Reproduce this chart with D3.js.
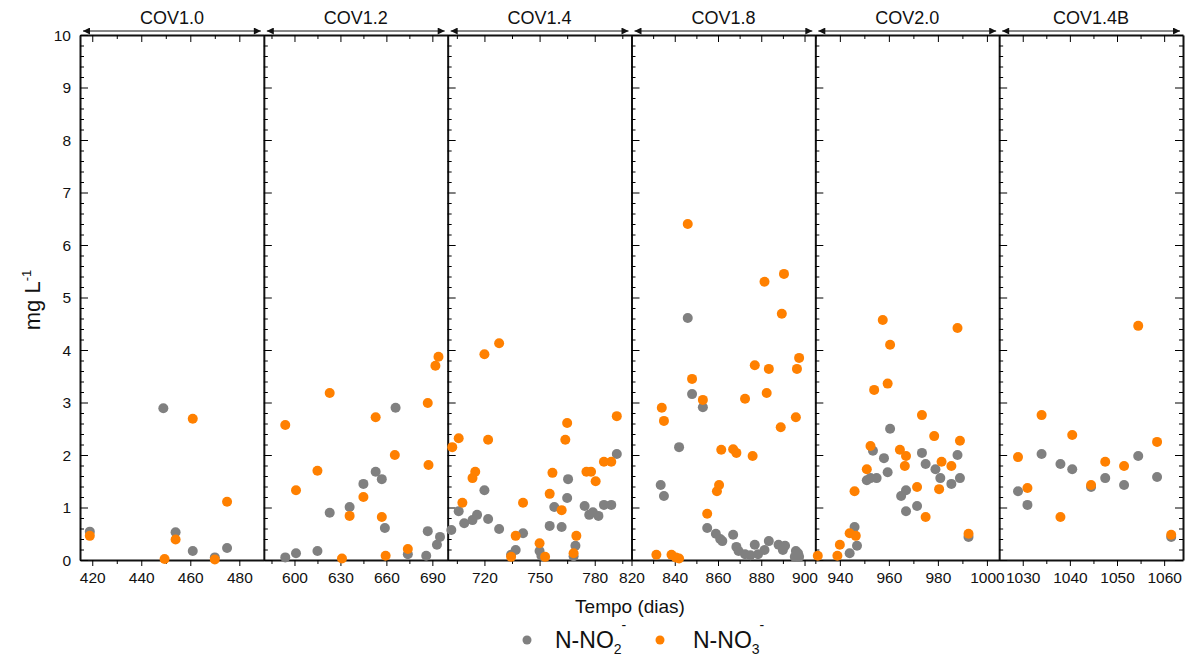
<!DOCTYPE html>
<html>
<head>
<meta charset="utf-8">
<script src="https://cdn.jsdelivr.net/npm/d3@7"></script>
<style>
  body { margin: 0; background: #fff; }
  text { font-family: "Liberation Sans", Arial, sans-serif; fill: #111; }
</style>
</head>
<body>
<svg id="chart" width="1185" height="657"></svg>
<script>
// panels of the broken time axis
var panels = ['COV1.0', 'COV1.2', 'COV1.4', 'COV1.8', 'COV2.0', 'COV1.4B']
var panelDomains = [[415, 490], [580, 700], [700, 800], [820, 905], [930, 1005], [1025, 1064]]
var majorTicks = [
  [420, 440, 460, 480],
  [600, 630, 660, 690],
  [720, 750, 780],
  [820, 840, 860, 880, 900],
  [940, 960, 980, 1000],
  [1030, 1040, 1050, 1060]
]
var minorTicks = [
  [430, 450, 470],
  [585, 615, 645, 675],
  [705, 735, 765, 795],
  [830, 850, 870, 890],
  [930, 950, 970, 990],
  [1035, 1045, 1055]
]
var yTicks = [0, 1, 2, 3, 4, 5, 6, 7, 8, 9, 10]

// N-NO2- [day, mg/L]
var no2 = [
  [419, 0.54], [449, 2.89], [454, 0.53], [461, 0.17], [470, 0.05], [475, 0.23],
  [594, 0.05], [601, 0.13], [615, 0.17], [623, 0.90], [636, 1.01], [645, 1.45], [653, 1.68],
  [657, 1.54], [659, 0.61], [666, 2.90], [674, 0.11], [686, 0.08], [687, 0.55], [693, 0.29], [695, 0.44],
  [702, 0.57], [706, 0.93], [709, 0.70], [713.5, 0.76], [716, 0.86], [720, 1.33], [722, 0.78],
  [728, 0.59], [734.5, 0.10], [737, 0.19], [741, 0.51], [750, 0.17], [751, 0.08], [755.5, 0.65],
  [758, 1.01], [762, 0.63], [765, 1.18], [765.5, 1.54], [768.5, 0.07], [769.5, 0.27], [774.5, 1.03],
  [777, 0.86], [779, 0.91], [782, 0.84], [785, 1.05], [789, 1.05], [792, 2.02],
  [833.5, 1.43], [835, 1.22], [842, 2.15], [846, 4.61], [848, 3.16], [853, 2.91], [855, 0.61],
  [859, 0.50], [861, 0.40], [862, 0.36], [867, 0.48], [868.5, 0.25], [869.5, 0.17], [872.5, 0.11],
  [875, 0.09], [877, 0.29], [878.5, 0.11], [881.5, 0.19], [883.5, 0.36], [888, 0.29], [890, 0.19],
  [891, 0.27], [895.5, 0.06], [896, 0.17], [897, 0.13], [897.5, 0.06],
  [944, 0.13], [946, 0.63], [947, 0.27], [951, 1.52], [952.5, 1.56], [953.5, 2.08], [955, 1.56],
  [958, 1.94], [959.5, 1.67], [960.5, 2.50], [965, 1.22], [967, 1.33], [967, 0.93], [971.5, 1.03],
  [973.5, 2.04], [975, 1.83], [979, 1.73], [981, 1.56], [985.5, 1.45], [988, 2.00], [989, 1.56], [992.5, 0.44],
  [1029, 1.31], [1031, 1.05], [1034, 2.02], [1038, 1.83], [1040.5, 1.73], [1044.5, 1.39],
  [1047.5, 1.56], [1051.5, 1.43], [1054.5, 1.98], [1058.5, 1.58], [1061.5, 0.44]
]

// N-NO3- [day, mg/L]
var no3 = [
  [419, 0.46], [449.5, 0.02], [454, 0.39], [461, 2.69], [470, 0.01], [475, 1.11],
  [594, 2.57], [601, 1.33], [615, 1.70], [623, 3.18], [631, 0.03], [636, 0.84], [645, 1.20],
  [653, 2.72], [657, 0.82], [659.5, 0.08], [665.5, 2.00], [674, 0.21], [687, 2.99], [687.5, 1.81],
  [692, 3.70], [694, 3.87],
  [702.5, 2.15], [706, 2.32], [708, 1.09], [713.5, 1.56], [715, 1.68], [720, 3.92], [722, 2.29],
  [728, 4.13], [734.5, 0.06], [737, 0.46], [741, 1.09], [750, 0.32], [753, 0.06], [755.5, 1.26],
  [757, 1.66], [762, 0.95], [764, 2.29], [765, 2.61], [768.5, 0.13], [770, 0.46], [775.5, 1.68],
  [778, 1.68], [780.5, 1.50], [785, 1.87], [789, 1.87], [792, 2.74],
  [831.5, 0.10], [834, 2.90], [835, 2.65], [838.5, 0.10], [840.5, 0.05], [842, 0.03], [846, 6.40],
  [848, 3.45], [853, 3.05], [855, 0.88], [859.5, 1.31], [860.5, 1.43], [861.5, 2.10], [867, 2.11],
  [868.5, 2.04], [872.5, 3.07], [876, 1.98], [877, 3.71], [881.5, 5.30], [882.5, 3.18], [883.5, 3.64],
  [889, 2.53], [889.5, 4.69], [890.5, 5.45], [896, 2.72], [896.5, 3.64], [897.5, 3.85],
  [931, 0.08], [939, 0.08], [940, 0.29], [944, 0.51], [946, 1.31], [946.5, 0.46], [951, 1.73],
  [952.5, 2.17], [954, 3.24], [957.5, 4.57], [959.5, 3.36], [960.5, 4.10], [964.5, 2.10],
  [966.5, 1.79], [967, 1.98], [971.5, 1.39], [973.5, 2.76], [975, 0.82], [978.5, 2.36], [980.5, 1.35],
  [981.5, 1.87], [985.5, 1.79], [988, 4.42], [989, 2.27], [992.5, 0.50],
  [1029, 1.96], [1031, 1.37], [1034, 2.76], [1038, 0.82], [1040.5, 2.38], [1044.5, 1.43],
  [1047.5, 1.87], [1051.5, 1.79], [1054.5, 4.46], [1058.5, 2.25], [1061.5, 0.48]
]

var grey = '#808080'
var orange = '#ff8000'

var svg = d3.select('#chart')
var plotLeft = 80
var plotRight = 1183
var plotTop = 35
var plotBottom = 560
var panelW = (plotRight - plotLeft) / panels.length

var y = d3.scaleLinear().domain([0, 10]).range([plotBottom, plotTop])
var yMinor = d3.range(1, 50).map(function (k) { return k / 5 }).filter(function (v) { return v % 1 !== 0 })

svg.append('defs').append('marker')
  .attr('id', 'arrow')
  .attr('viewBox', '0 0 10 10')
  .attr('refX', 10).attr('refY', 5)
  .attr('markerWidth', 10).attr('markerHeight', 7)
  .attr('markerUnits', 'userSpaceOnUse')
  .attr('orient', 'auto-start-reverse')
  .append('path').attr('d', 'M0,0 L10,5 L0,10 Z').attr('fill', '#111')

var xScales = panels.map(function (p, i) {
  return d3.scaleLinear().domain(panelDomains[i]).range([plotLeft + i * panelW, plotLeft + (i + 1) * panelW])
})

function inPanel (d, i) {
  return d[0] >= panelDomains[i][0] && d[0] <= panelDomains[i][1]
}

function styleDomain (a) { a.select('.domain').attr('stroke', '#111').attr('stroke-width', 2) }
function noDomain (a) { a.select('.domain').remove() }

panels.forEach(function (name, i) {
  var x = xScales[i]
  var x0 = plotLeft + i * panelW
  var x1 = x0 + panelW
  var g = svg.append('g')

  // bottom axis
  g.append('g').attr('transform', 'translate(0,' + plotBottom + ')')
    .call(d3.axisBottom(x).tickValues(majorTicks[i]).tickFormat(d3.format('d')).tickSize(6).tickSizeOuter(0).tickPadding(6))
    .call(styleDomain)
    .call(function (a) {
      a.selectAll('text').style('font-size', '15.5px').attr('fill', '#111')
    })
  g.append('g').attr('transform', 'translate(0,' + plotBottom + ')')
    .call(d3.axisBottom(x).tickValues(minorTicks[i]).tickSize(4).tickFormat('').tickSizeOuter(0))
    .call(noDomain)

  // top axis, ticks pointing inside
  g.append('g').attr('transform', 'translate(0,' + plotTop + ')')
    .call(d3.axisBottom(x).tickValues(majorTicks[i]).tickSize(7).tickFormat('').tickSizeOuter(0))
    .call(styleDomain)
  g.append('g').attr('transform', 'translate(0,' + plotTop + ')')
    .call(d3.axisBottom(x).tickValues(minorTicks[i]).tickSize(4).tickFormat('').tickSizeOuter(0))
    .call(noDomain)

  // left axis of each panel, ticks pointing inside
  g.append('g').attr('transform', 'translate(' + x0 + ',0)')
    .call(d3.axisRight(y).tickValues(yTicks).tickSize(8).tickFormat('').tickSizeOuter(0))
    .call(styleDomain)
  g.append('g').attr('transform', 'translate(' + x0 + ',0)')
    .call(d3.axisRight(y).tickValues(yMinor).tickSize(4).tickFormat('').tickSizeOuter(0))
    .call(noDomain)

  // arrow band and panel title
  g.append('line')
    .attr('x1', x0 + 3).attr('x2', x1 - 3)
    .attr('y1', 31).attr('y2', 31)
    .attr('stroke', '#111').attr('stroke-width', 1)
    .attr('marker-start', 'url(#arrow)')
    .attr('marker-end', 'url(#arrow)')
  g.append('text')
    .attr('x', (x0 + x1) / 2).attr('y', 24)
    .attr('text-anchor', 'middle')
    .style('font-size', '18px')
    .text(name)

  // points: nitrite below, nitrate on top
  g.selectAll('.no2').data(no2.filter(function (d) { return inPanel(d, i) })).enter()
    .append('circle').attr('class', 'no2')
    .attr('cx', function (d) { return x(d[0]) })
    .attr('cy', function (d) { return y(d[1]) })
    .attr('r', 5).attr('fill', grey)
  g.selectAll('.no3').data(no3.filter(function (d) { return inPanel(d, i) })).enter()
    .append('circle').attr('class', 'no3')
    .attr('cx', function (d) { return x(d[0]) })
    .attr('cy', function (d) { return y(d[1]) })
    .attr('r', 5).attr('fill', orange)
})

// right axis
svg.append('g').attr('transform', 'translate(' + plotRight + ',0)')
  .call(d3.axisLeft(y).tickValues(yTicks).tickSize(8).tickFormat('').tickSizeOuter(0))
  .call(styleDomain)
svg.append('g').attr('transform', 'translate(' + plotRight + ',0)')
  .call(d3.axisLeft(y).tickValues(yMinor).tickSize(4).tickFormat('').tickSizeOuter(0))
  .call(noDomain)

// y tick labels
svg.append('g').selectAll('text').data(yTicks).enter()
  .append('text')
  .attr('x', 71).attr('y', function (d) { return y(d) + 5.5 })
  .attr('text-anchor', 'end')
  .style('font-size', '15.5px')
  .text(function (d) { return d })

// y title
var yt = svg.append('text')
  .attr('transform', 'translate(40,300) rotate(-90)')
  .attr('text-anchor', 'middle')
  .style('font-size', '22px')
yt.append('tspan').text('mg L')
yt.append('tspan').attr('dy', -9).style('font-size', '13px').text('-1')

// x title
svg.append('text')
  .attr('x', 630).attr('y', 613)
  .attr('text-anchor', 'middle')
  .style('font-size', '19px')
  .text('Tempo (dias)')

// legend
var legend = [
  { sub: '2', color: grey, cx: 527, tx: 555 },
  { sub: '3', color: orange, cx: 660, tx: 693 }
]
legend.forEach(function (l) {
  svg.append('circle').attr('cx', l.cx).attr('cy', 640).attr('r', 4.5).attr('fill', l.color)
  var t = svg.append('text').attr('x', l.tx).attr('y', 648).style('font-size', '23px')
  t.append('tspan').text('N-NO')
  t.append('tspan').attr('dy', 6).style('font-size', '14px').text(l.sub)
  t.append('tspan').attr('dy', -24).style('font-size', '14px').text('-')
})
</script>
</body>
</html>
